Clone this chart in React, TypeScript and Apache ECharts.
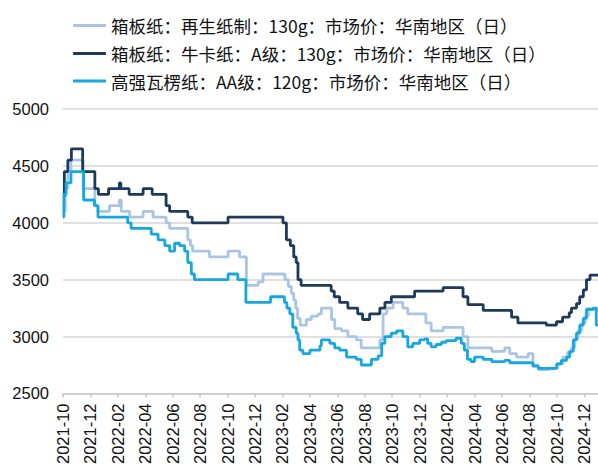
import React, { useEffect, useRef } from "react";
import * as echarts from "echarts";

// Axis range: months counted from 2021-10-01
const axisStart = { year: 2021, month: 10 };
const axisMonths = 39;
const yTicks = { min: 2500, max: 5000, step: 500 };

const seriesNames = [
  "箱板纸：再生纸制：130g：市场价：华南地区（日）",
  "箱板纸：牛卡纸：A级：130g：市场价：华南地区（日）",
  "高强瓦楞纸：AA级：120g：市场价：华南地区（日）",
];
const seriesColors = ["#a9c5e3", "#1c3a5c", "#15a8e0"];

// Price change points: [date, price from that date on]
const recycledBoard: [string, number][] = [
  ["2021-10-01", 4100], ["2021-10-06", 4300], ["2021-10-12", 4450], ["2021-10-19", 4550],
  ["2021-11-15", 4300], ["2021-12-11", 4150], ["2021-12-18", 4100], ["2022-01-13", 4150],
  ["2022-02-04", 4200], ["2022-02-08", 4100], ["2022-02-25", 4050], ["2022-03-27", 4100],
  ["2022-04-18", 4050], ["2022-05-17", 4000], ["2022-05-25", 3950], ["2022-07-04", 3850],
  ["2022-07-10", 3800], ["2022-07-15", 3750], ["2022-08-22", 3700], ["2022-10-02", 3750],
  ["2022-10-28", 3700], ["2022-11-12", 3450], ["2022-12-08", 3480], ["2022-12-19", 3550],
  ["2023-02-06", 3500], ["2023-02-13", 3440], ["2023-02-19", 3380], ["2023-02-24", 3320],
  ["2023-02-28", 3250], ["2023-03-04", 3160], ["2023-03-10", 3100], ["2023-03-24", 3150],
  ["2023-04-04", 3180], ["2023-04-19", 3200], ["2023-04-26", 3250], ["2023-05-19", 3150],
  ["2023-05-26", 3070], ["2023-06-10", 3050], ["2023-06-24", 3000], ["2023-07-13", 2970],
  ["2023-07-24", 2900], ["2023-09-04", 2970], ["2023-09-11", 3200], ["2023-09-19", 3250],
  ["2023-10-03", 3300], ["2023-10-25", 3250], ["2023-11-05", 3200], ["2023-12-15", 3120],
  ["2023-12-27", 3050], ["2024-01-23", 3080], ["2024-03-06", 3000], ["2024-03-17", 2900],
  ["2024-05-09", 2870], ["2024-06-07", 2900], ["2024-06-18", 2850], ["2024-07-03", 2820],
  ["2024-07-29", 2850], ["2024-08-09", 2750], ["2024-08-21", 2710], ["2024-09-15", 2720],
  ["2024-10-01", 2760], ["2024-10-15", 2820], ["2024-10-25", 2860], ["2024-11-03", 2900],
  ["2024-11-10", 2980], ["2024-11-17", 3050], ["2024-11-25", 3120], ["2024-12-03", 3180],
  ["2024-12-10", 3240], ["2025-01-01", 3240],
];

const kraftBoard: [string, number][] = [
  ["2021-10-01", 4230], ["2021-10-04", 4450], ["2021-10-12", 4550], ["2021-10-20", 4650],
  ["2021-11-14", 4450], ["2021-12-11", 4300], ["2021-12-19", 4250], ["2022-01-11", 4300],
  ["2022-02-04", 4350], ["2022-02-07", 4300], ["2022-02-24", 4250], ["2022-03-27", 4300],
  ["2022-04-16", 4250], ["2022-05-17", 4150], ["2022-05-25", 4100], ["2022-07-04", 4050],
  ["2022-07-14", 4000], ["2022-10-02", 4050], ["2023-02-02", 4000], ["2023-02-09", 3850],
  ["2023-02-17", 3800], ["2023-02-24", 3700], ["2023-03-01", 3650], ["2023-03-05", 3500],
  ["2023-03-12", 3450], ["2023-05-18", 3400], ["2023-05-25", 3350], ["2023-06-06", 3300],
  ["2023-06-24", 3250], ["2023-07-16", 3200], ["2023-07-27", 3150], ["2023-08-12", 3200],
  ["2023-09-04", 3250], ["2023-09-15", 3300], ["2023-09-29", 3350], ["2023-11-20", 3400],
  ["2024-01-23", 3430], ["2024-03-06", 3350], ["2024-03-17", 3280], ["2024-04-20", 3230],
  ["2024-06-22", 3170], ["2024-07-06", 3120], ["2024-09-08", 3100], ["2024-09-30", 3130],
  ["2024-10-14", 3170], ["2024-10-29", 3210], ["2024-11-03", 3250], ["2024-11-14", 3290],
  ["2024-11-21", 3350], ["2024-11-29", 3410], ["2024-12-06", 3500], ["2024-12-14", 3540],
  ["2025-01-01", 3540],
];

const corrugatedAA: [string, number][] = [
  ["2021-10-01", 4050], ["2021-10-03", 4250], ["2021-10-08", 4350], ["2021-10-19", 4450],
  ["2021-11-16", 4200], ["2021-12-10", 4150], ["2021-12-18", 4050], ["2022-02-21", 4000],
  ["2022-02-28", 3950], ["2022-04-14", 3900], ["2022-04-29", 3850], ["2022-05-14", 3800],
  ["2022-05-25", 3750], ["2022-06-05", 3820], ["2022-06-16", 3800], ["2022-06-27", 3750],
  ["2022-07-04", 3650], ["2022-07-12", 3550], ["2022-07-19", 3500], ["2022-10-02", 3550],
  ["2022-10-24", 3500], ["2022-11-11", 3300], ["2023-01-05", 3350], ["2023-02-05", 3300],
  ["2023-02-10", 3250], ["2023-02-16", 3200], ["2023-02-22", 3080], ["2023-03-01", 3030],
  ["2023-03-05", 2970], ["2023-03-09", 2880], ["2023-03-16", 2850], ["2023-04-01", 2880],
  ["2023-04-23", 2920], ["2023-04-26", 2970], ["2023-05-15", 2940], ["2023-05-26", 2900],
  ["2023-06-06", 2880], ["2023-06-21", 2820], ["2023-07-13", 2800], ["2023-07-24", 2750],
  ["2023-08-16", 2800], ["2023-08-31", 2830], ["2023-09-08", 2940], ["2023-09-15", 3000],
  ["2023-09-29", 3030], ["2023-10-11", 3050], ["2023-10-25", 3000], ["2023-11-05", 2910],
  ["2023-11-16", 2940], ["2023-12-01", 2970], ["2023-12-12", 2980], ["2023-12-19", 2940],
  ["2023-12-27", 2910], ["2024-01-07", 2930], ["2024-01-19", 2950], ["2024-01-30", 2965],
  ["2024-02-20", 2985], ["2024-03-02", 2940], ["2024-03-09", 2880], ["2024-03-16", 2800],
  ["2024-03-24", 2780], ["2024-04-01", 2820], ["2024-04-20", 2800], ["2024-05-09", 2780],
  ["2024-06-07", 2790], ["2024-06-18", 2770], ["2024-08-09", 2740], ["2024-08-21", 2720],
  ["2024-10-01", 2760], ["2024-10-11", 2790], ["2024-10-23", 2820], ["2024-10-30", 2870],
  ["2024-11-07", 2970], ["2024-11-14", 3030], ["2024-11-21", 3100], ["2024-11-29", 3160],
  ["2024-12-06", 3240], ["2024-12-21", 3250], ["2024-12-28", 3100], ["2025-01-01", 3100],
];

// Fractional month offset of a date from the axis start
function monthOffset(date: string): number {
  const [y, m, d] = date.split("-").map(Number);
  const daysInMonth = new Date(y, m, 0).getDate();
  return (y - axisStart.year) * 12 + (m - axisStart.month) + (d - 1) / daysInMonth;
}

function monthLabel(offset: number): string {
  const total = axisStart.year * 12 + (axisStart.month - 1) + Math.round(offset);
  const y = Math.floor(total / 12);
  const m = (total % 12) + 1;
  return `${y}-${String(m).padStart(2, "0")}`;
}

const seriesData = [recycledBoard, kraftBoard, corrugatedAA];
const legendCenters = [20.5, 48.5, 76];

export default function App() {
  const ref = useRef<HTMLDivElement>(null);

  useEffect(() => {
    if (!ref.current) return;
    const chart = echarts.init(ref.current, undefined, { renderer: "svg" });
    const latin = "'Liberation Sans', Arial, sans-serif";
    const cjk = "'Noto Sans CJK SC', 'Liberation Sans', sans-serif";

    chart.setOption({
      animation: false,
      backgroundColor: "#ffffff",
      grid: { left: 63, right: 0, top: 109, bottom: 73.5, containLabel: false },
      legend: seriesNames.map((name, i) => ({
        data: [name],
        left: 68,
        top: legendCenters[i] - 10,
        orient: "horizontal",
        icon: "roundRect",
        itemWidth: 33,
        itemHeight: 3,
        itemGap: 0,
        selectedMode: false,
        textStyle: {
          fontFamily: cjk,
          fontSize: 17.5,
          lineHeight: 20,
          color: "#111111",
        },
      })),
      xAxis: {
        type: "value",
        min: 0,
        max: axisMonths,
        interval: 2,
        axisLine: { show: true, lineStyle: { color: "#c8c8c8", width: 1.5 } },
        axisTick: { show: true, length: 4, lineStyle: { color: "#c8c8c8", width: 1.5 } },
        splitLine: { show: false },
        axisLabel: {
          rotate: 90,
          margin: 10,
          fontFamily: latin,
          fontSize: 16.5,
          color: "#111111",
          showMaxLabel: false,
          formatter: (v: number) => (Math.round(v) % 2 === 0 ? monthLabel(v) : ""),
        },
      },
      yAxis: {
        type: "value",
        min: yTicks.min,
        max: yTicks.max,
        interval: yTicks.step,
        axisLine: { show: false },
        axisTick: { show: false },
        splitLine: { show: true, lineStyle: { color: "#d6d6d6", width: 1.5 } },
        axisLabel: {
          margin: 14,
          fontFamily: latin,
          fontSize: 16.5,
          color: "#111111",
          formatter: (v: number) => String(v),
        },
      },
      series: seriesData.map((points, i) => ({
        name: seriesNames[i],
        type: "line",
        step: "end",
        symbol: "none",
        color: seriesColors[i],
        lineStyle: { color: seriesColors[i], width: 2.8 },
        data: points.map(([d, v]) => [monthOffset(d), v]),
      })),
    });

    return () => chart.dispose();
  }, []);

  return (
    <div
      ref={ref}
      style={{ position: "absolute", left: 0, top: 0, width: 598, height: 467, background: "#fff" }}
    />
  );
}
